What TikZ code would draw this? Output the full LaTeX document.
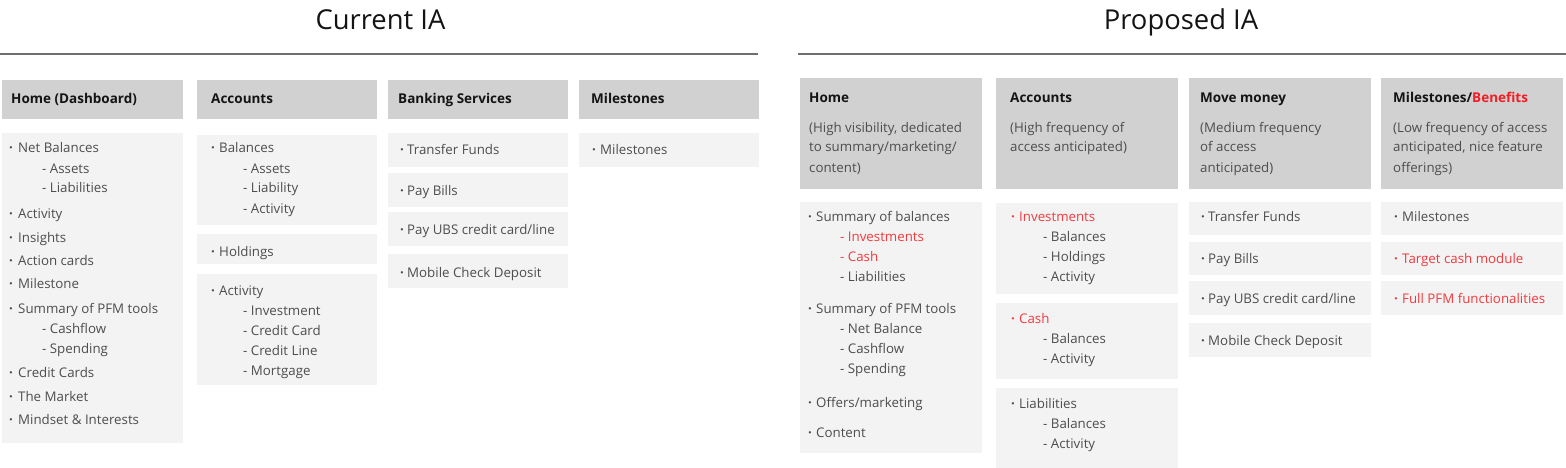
\documentclass[tikz,border=0pt]{standalone}
\usepackage{fontspec}
\setmainfont{Open Sans}
\definecolor{hdrfill}{HTML}{D1D1D1}
\definecolor{boxfill}{HTML}{F3F3F3}
\definecolor{rulecol}{HTML}{6E6E6E}
\definecolor{ink}{HTML}{4D4D4D}
\definecolor{hdrink}{HTML}{141414}
\definecolor{hot}{HTML}{F23A3F}
\definecolor{hotbold}{HTML}{F01E25}
\newcounter{tnum}
\newcommand\tx[4][ink]{\stepcounter{tnum}\node[txt,text=#1] (t\arabic{tnum}) at (#2,#3) {#4};}
\newcommand\bi[5][ink]{\tx[#1]{#2}{#4}{\textbf{·}}\tx[#1]{#3}{#4}{#5}}
\newcommand\hd[3]{\stepcounter{tnum}\node[hdtxt] (t\arabic{tnum}) at (#1,#2) {#3};}
\newcommand\bx[6]{\node[#2, anchor=north west, minimum width={#5-#3}, minimum height={#6-#4}] (#1) at (#3,#4) {};}
\begin{document}
\begin{tikzpicture}[x=1pt,y=-1pt,
  txt/.style={anchor=base west, inner sep=0pt, outer sep=0pt, xshift=-0.8pt, font=\fontsize{13.3}{16}\selectfont},
  hdtxt/.style={anchor=base west, inner sep=0pt, outer sep=0pt, xshift=-0.8pt, text=hdrink, font=\fontsize{13.5}{16}\selectfont\bfseries},
  hdrbox/.style={fill=hdrfill, draw=none, inner sep=0pt, outer sep=0pt},
  itembox/.style={fill=boxfill, draw=none, inner sep=0pt, outer sep=0pt},
  rulestyle/.style={draw=rulecol, line width=2pt},
  titletxt/.style={anchor=base, inner sep=0pt, text=hdrink, font=\fontsize{27.4}{32}\selectfont}]
\useasboundingbox (0,0) rectangle (1566,468);
% titles and rules
\node[titletxt] (tcur) at (380.5,30) {Current IA};
\node[titletxt] (tpro) at (1181,30) {Proposed IA};
\coordinate (la) at (0,54); \coordinate (lb) at (758,54);
\coordinate (ra) at (798,54); \coordinate (rb) at (1566,54);
\draw[rulestyle] (la) -- (lb);
\draw[rulestyle] (ra) -- (rb);
% ---------- Current IA ----------
\bx{h1}{hdrbox}{2}{80}{183}{119}
\bx{h2}{hdrbox}{197}{80}{377}{119}
\bx{h3}{hdrbox}{388}{80}{568}{119}
\bx{h4}{hdrbox}{579}{80}{759}{119}
\hd{12}{104}{Home (Dashboard)}
\hd{212}{104}{Accounts}
\hd{399}{104}{Banking Services}
\hd{592}{104}{Milestones}
% Home
\bx{c1}{itembox}{2}{133}{183}{443}
\bi{10}{19}{153}{Net Balances}
\tx{43}{173}{- Assets}
\tx{43}{193}{- Liabilities}
\bi{10}{19}{218}{Activity}
\bi{10}{19}{242}{Insights}
\bi{10}{19}{265}{Action cards}
\bi{10}{19}{288}{Milestone}
\bi{10}{19}{313}{Summary of PFM tools}
\tx{43}{333}{- Cashflow}
\tx{43}{353}{- Spending}
\bi{10}{19}{377}{Credit Cards}
\bi{10}{19}{401}{The Market}
\bi{10}{19}{424}{Mindset \& Interests}
% Accounts
\bx{a1}{itembox}{197}{135}{377}{225}
\bx{a2}{itembox}{197}{234}{377}{264}
\bx{a3}{itembox}{197}{274}{377}{385}
\bi{212}{220}{153}{Balances}
\tx{244}{173}{- Assets}
\tx{244}{193}{- Liability}
\tx{244}{213}{- Activity}
\bi{212}{220}{256}{Holdings}
\bi{212}{220}{295}{Activity}
\tx{244}{315}{- Investment}
\tx{244}{335}{- Credit Card}
\tx{244}{355}{- Credit Line}
\tx{244}{375}{- Mortgage}
% Banking services
\bx{b1}{itembox}{388}{133}{568}{167}
\bx{b2}{itembox}{388}{173}{568}{207}
\bx{b3}{itembox}{388}{212}{568}{246}
\bx{b4}{itembox}{388}{254}{568}{288}
\bi{401}{408}{154}{Transfer Funds}
\bi{401}{408}{195}{Pay Bills}
\bi{401}{408}{234}{Pay UBS credit card/line}
\bi{401}{408}{277}{Mobile Check Deposit}
% Milestones
\bx{m1}{itembox}{579}{133}{759}{167}
\bi{593}{601}{154}{Milestones}
% ---------- Proposed IA ----------
\bx{ph1}{hdrbox}{800}{78}{982}{189}
\bx{ph2}{hdrbox}{996}{78}{1178}{189}
\bx{ph3}{hdrbox}{1189}{78}{1371}{189}
\bx{ph4}{hdrbox}{1381}{78}{1563}{189}
\hd{810}{103}{Home}
\tx{810}{132}{(High visibility, dedicated}
\tx{810}{152}{to summary/marketing/}
\tx{810}{172}{content)}
\hd{1011}{103}{Accounts}
\tx{1011}{132}{(High frequency of}
\tx{1011}{152}{access anticipated)}
\hd{1201}{103}{Move money}
\tx{1201}{132}{(Medium frequency}
\tx{1201}{152}{of access}
\tx{1201}{172}{anticipated)}
\hd{1394}{103}{Milestones/\textcolor{hotbold}{Benefits}}
\tx{1394}{132}{(Low frequency of access}
\tx{1394}{152}{anticipated, nice feature}
\tx{1394}{172}{offerings)}
% Home content
\bx{pc1}{itembox}{800}{202}{982}{453}
\bi{809}{817}{221}{Summary of balances}
\tx[hot]{841}{241}{- Investments}
\tx[hot]{841}{261}{- Cash}
\tx{841}{281}{- Liabilities}
\bi{809}{817}{313}{Summary of PFM tools}
\tx{841}{333}{- Net Balance}
\tx{841}{353}{- Cashflow}
\tx{841}{373}{- Spending}
\bi{809}{817}{407}{Offers/marketing}
\bi{809}{817}{437}{Content}
% Accounts content
\bx{pa1}{itembox}{996}{203}{1178}{294}
\bx{pa2}{itembox}{996}{303}{1178}{379}
\bx{pa3}{itembox}{996}{388}{1178}{468}
\bi[hot]{1012}{1020}{221}{Investments}
\tx{1044}{241}{- Balances}
\tx{1044}{261}{- Holdings}
\tx{1044}{281}{- Activity}
\bi[hot]{1012}{1020}{323}{Cash}
\tx{1044}{343}{- Balances}
\tx{1044}{363}{- Activity}
\bi{1012}{1020}{408}{Liabilities}
\tx{1044}{428}{- Balances}
\tx{1044}{448}{- Activity}
% Move money
\bx{pm1}{itembox}{1189}{202}{1371}{235}
\bx{pm2}{itembox}{1189}{242}{1371}{275}
\bx{pm3}{itembox}{1189}{281}{1371}{315}
\bx{pm4}{itembox}{1189}{323}{1371}{357}
\bi{1202}{1209}{221}{Transfer Funds}
\bi{1202}{1209}{263}{Pay Bills}
\bi{1202}{1209}{303}{Pay UBS credit card/line}
\bi{1202}{1209}{345}{Mobile Check Deposit}
% Milestones/Benefits
\bx{pb1}{itembox}{1381}{202}{1563}{235}
\bx{pb2}{itembox}{1381}{242}{1563}{275}
\bx{pb3}{itembox}{1381}{281}{1563}{315}
\bi{1395}{1403}{221}{Milestones}
\bi[hot]{1395}{1403}{263}{Target cash module}
\bi[hot]{1395}{1403}{303}{Full PFM functionalities}
\end{tikzpicture}
\end{document}
